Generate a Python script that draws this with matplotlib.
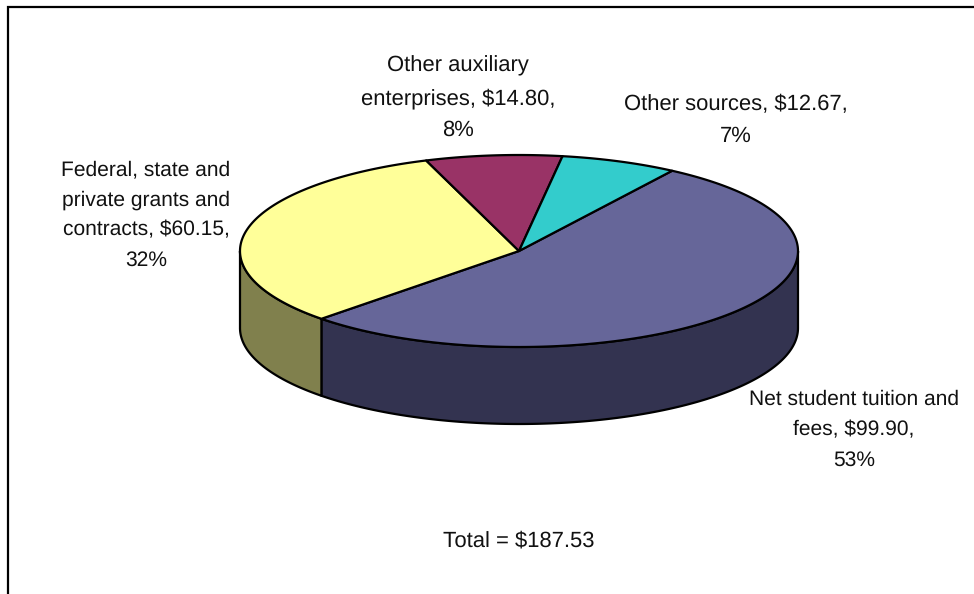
import numpy as np
import matplotlib
matplotlib.use("Agg")
import matplotlib.pyplot as plt
from matplotlib.patches import Polygon

categories = ["Net student tuition and\nfees", "Federal, state and\nprivate grants and\ncontracts",
              "Other auxiliary\nenterprises", "Other sources"]
amounts = [99.90, 60.15, 14.80, 12.67]
percents = [53, 32, 8, 7]
total_text = "Total = $187.53"

top_colors = ["#666699", "#FFFF99", "#993366", "#33CCCC"]
side_colors = ["#333350", "#80804D", "#4D1A33", "#1A6666"]

label_text = [
    f"{categories[0]}, ${amounts[0]:.2f},\n{percents[0]}%",
    f"{categories[1]}, ${amounts[1]:.2f},\n{percents[1]}%",
    f"{categories[2]}, ${amounts[2]:.2f},\n{percents[2]}%",
    f"{categories[3]}, ${amounts[3]:.2f},\n{percents[3]}%",
]
# x centre and baseline of the last line of each label
label_pos = [(854, 466), (146, 266), (458, 136), (736, 142)]
label_size = [15.45, 15.45, 15.6, 15.6]

cx, cy = 519, 251
rx, ry = 279, 96
depth = 77
start = 33.3

plt.rcParams["font.family"] = ["Liberation Sans", "DejaVu Sans"]
plt.rcParams["text.hinting"] = "no_hinting"
plt.rcParams["text.hinting_factor"] = 1

fig = plt.figure(figsize=(9.74, 5.94), dpi=100)
ax = fig.add_axes([0, 0, 1, 1])
ax.set_xlim(0, 974)
ax.set_ylim(594, 0)
ax.axis("off")


def rim(a1, a2, dy=0):
    t = np.radians(np.linspace(a1, a2, 200))
    return np.column_stack([cx + rx * np.sin(t), cy + dy - ry * np.cos(t)])


# chart frame, right and bottom edges fall outside the image
ax.plot([8, 8, 990], [610, 6.5, 6.5], color="black", lw=1.6, solid_joinstyle="miter")

shares = np.array(amounts) / sum(amounts) * 360
edges = start + np.concatenate([[0], np.cumsum(shares)])

# outer wall, only the part facing the viewer (90 to 270 degrees)
for i in range(len(amounts)):
    a1 = max(edges[i], 90)
    a2 = min(edges[i + 1], 270)
    if a2 <= a1:
        continue
    pts = np.vstack([rim(a1, a2), rim(a2, a1, depth)])
    ax.add_patch(Polygon(pts, closed=True, fc=side_colors[i], ec="black", lw=1.6, joinstyle="round"))

# top face
for i in range(len(amounts)):
    pts = np.vstack([[cx, cy], rim(edges[i], edges[i + 1])])
    ax.add_patch(Polygon(pts, closed=True, fc=top_colors[i], ec="black", lw=1.6, joinstyle="round"))

for txt, (x, y), size in zip(label_text, label_pos, label_size):
    ax.text(x, y, txt, ha="center", va="baseline", fontsize=size, linespacing=1.71, color="#111111")

ax.text(519, 546, total_text, ha="center", va="baseline", fontsize=15.6, color="#111111")

fig.savefig("out.png", dpi=100)
